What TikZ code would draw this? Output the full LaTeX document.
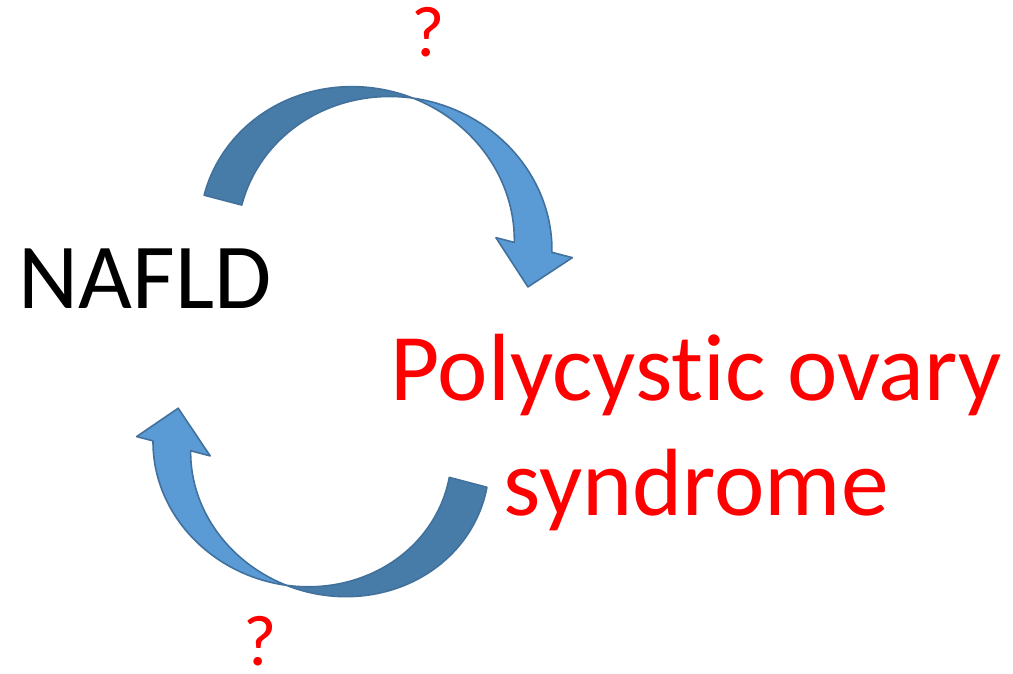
\documentclass[tikz,border=0pt]{standalone}
\usepackage{fontspec}
\setmainfont{Carlito}[Ligatures={CommonOff,ContextualOff}]
\definecolor{bandlight}{RGB}{91,155,213}
\definecolor{banddark}{RGB}{72,124,168}
\definecolor{bandedge}{RGB}{65,113,156}
\definecolor{labelred}{RGB}{255,0,0}
\tikzset{
  lightpart/.style={fill=bandlight, draw=bandedge, line width=1.6, line join=round},
  darkpart/.style={fill=banddark, draw=bandedge, line width=1.6, line join=round},
  bigtext/.style={inner sep=0, font=\fontsize{93}{115}\selectfont},
  redtext/.style={inner sep=0, text=labelred, font=\fontsize{95.5}{115}\selectfont},
  qmark/.style={inner sep=0, text=labelred, font=\fontsize{72}{86}\selectfont},
}
\begin{document}
\begin{tikzpicture}[x=1pt, y=-1pt]
  \useasboundingbox (0,0) rectangle (1013,674);

  % upper curved arrow: a twisted elliptic band, two equal ellipses
  % offset along the tilted axis; the back of the band is darker
  \begin{scope}[rotate=-14.7]
    \path[darkpart]
      plot[domain=180:82.93, samples=60] ({405+158*cos(\x)}, {137-148*sin(\x)})
      -- plot[domain=97.07:180, samples=60] ({443.9+158*cos(\x)}, {137-148*sin(\x)})
      -- cycle;
    \path[lightpart]
      plot[domain=97.07:12.88, samples=60] ({443.9+158*cos(\x)}, {137-148*sin(\x)})
      -- (619,104) -- (583.5,143.6) -- (540,104)
      -- plot[domain=12.88:82.93, samples=60] ({405+158*cos(\x)}, {137-148*sin(\x)})
      -- cycle;
  \end{scope}

  % lower curved arrow: the same construction turned upside down
  \begin{scope}[shift={(708,694)}, rotate=165.3]
    \path[darkpart]
      plot[domain=183.7:82.55, samples=60] ({416+150*cos(\x)}, {135-138*sin(\x)})
      -- plot[domain=97.45:183.7, samples=60] ({454.9+150*cos(\x)}, {135-138*sin(\x)})
      -- cycle;
    \path[lightpart]
      plot[domain=97.45:12.98, samples=60] ({454.9+150*cos(\x)}, {135-138*sin(\x)})
      -- (618,104) -- (585,142) -- (542,104)
      -- plot[domain=12.98:82.55, samples=60] ({416+150*cos(\x)}, {135-138*sin(\x)})
      -- cycle;
  \end{scope}

  % labels
  \node[bigtext, anchor=base] (nafld) at (145,308) {NAFLD};
  \node[redtext, anchor=base, align=center] (pcos) at (696,515)
    {Polycystic ovary\\syndrome};
  \node[qmark, anchor=base] (qtop) at (428,57) {?};
  \node[qmark, anchor=base] (qbottom) at (260,665) {?};
\end{tikzpicture}
\end{document}
